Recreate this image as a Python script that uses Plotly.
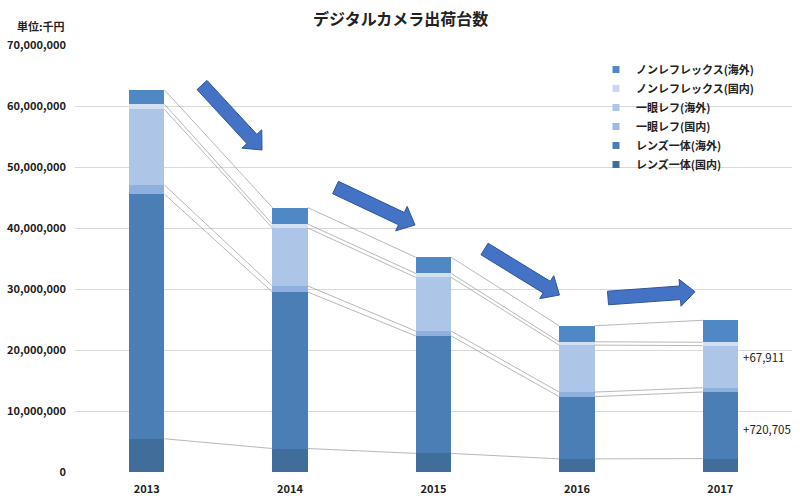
import plotly.graph_objects as go
import numpy as np

years = ["2013", "2014", "2015", "2016", "2017"]
series_names = ["レンズ一体(国内)", "レンズ一体(海外)", "一眼レフ(国内)", "一眼レフ(海外)",
                "ノンレフレックス(国内)", "ノンレフレックス(海外)"]
lens_dom = [5450000, 3850000, 3050000, 2150000, 2200000]
lens_ovs = [40100000, 25650000, 19250000, 10200000, 10920000]
slr_dom = [1500000, 1000000, 800000, 750000, 700000]
slr_ovs = [12400000, 9500000, 8800000, 7700000, 6900000]
nr_dom = [850000, 650000, 650000, 550000, 550000]
nr_ovs = [2350000, 2700000, 2650000, 2620000, 3600000]
series_values = [lens_dom, lens_ovs, slr_dom, slr_ovs, nr_dom, nr_ovs]
colors = ["#416d9b", "#4a7eb5", "#8fb0dc", "#adc6e7", "#d3e0f2", "#4f88c4"]
legend_colors = ["#416d9b", "#4a7eb5", "#9ab8e0", "#adc6e7", "#c9d8ee", "#4f88c4"]
notes = ["+67,911", "+720,705"]
note_y = [18850000, 7050000]

W, H = 800, 503
ML, MR, MT, MB = 75, 8, 45, 31
PW, PH = W - ML - MR, H - MT - MB
bar_w = 0.247

fig = go.Figure()
xs = np.arange(len(years))

for name, vals, col in zip(series_names, series_values, colors):
    fig.add_trace(go.Bar(x=xs, y=vals, width=bar_w, name=name, marker=dict(color=col, line=dict(width=0)),
                         showlegend=False))

# connector lines between segment tops
cum = np.cumsum(np.array(series_values, dtype=float), axis=0)
lx, ly = [], []
for level in cum:
    for i in range(len(years) - 1):
        lx += [xs[i] + bar_w / 2, xs[i + 1] - bar_w / 2, None]
        ly += [level[i], level[i + 1], None]
fig.add_trace(go.Scatter(x=lx, y=ly, mode="lines", line=dict(color="#a6a6a6", width=0.8),
                         showlegend=False, hoverinfo="skip"))

# legend entries (top to bottom)
for name, col in reversed(list(zip(series_names, legend_colors))):
    fig.add_trace(go.Scatter(x=[None], y=[None], mode="markers", name=name,
                             marker=dict(symbol="square", size=7, color=col)))


def px2paper(px, py):
    return (px - ML) / PW, (H - MB - py) / PH


def arrow_path(tail, tip, sw=6.8, hw=13.5, hl=15):
    t = np.array(tail, float)
    h = np.array(tip, float)
    d = h - t
    u = d / np.linalg.norm(d)
    n = np.array([-u[1], u[0]])
    b = h - hl * u
    pts = [t + sw * n, b + sw * n, b + hw * n, h, b - hw * n, b - sw * n, t - sw * n]
    pp = [px2paper(p[0], p[1]) for p in pts]
    return "M " + " L ".join(f"{x:.4f},{y:.4f}" for x, y in pp) + " Z"


arrows = [((202, 85), (262, 150)), ((335.5, 187.5), (415, 225)),
          ((484.5, 249), (559.5, 295)), ((608, 298), (695, 291.7))]
for tail, tip in arrows:
    fig.add_shape(type="path", path=arrow_path(tail, tip), xref="paper", yref="paper",
                  fillcolor="#4472c4", line=dict(color="#2f5597", width=1), layer="above")

font_family = "Noto Sans CJK JP"
fig.add_annotation(text="デジタルカメラ出荷台数", xref="paper", yref="paper",
                   x=px2paper(400, 0)[0], y=px2paper(0, 18)[1], xanchor="center", yanchor="middle",
                   showarrow=False,
                   font=dict(size=16, weight="bold", color="#222222", family=font_family))
fig.add_annotation(text="単位:千円", xref="paper", yref="paper",
                   x=px2paper(15, 0)[0], y=px2paper(0, 26)[1], xanchor="left", yanchor="middle",
                   showarrow=False,
                   font=dict(size=11, weight="bold", color="#222222", family=font_family))
for t, yv in zip(notes, note_y):
    fig.add_annotation(text=t, xref="x", yref="y", x=4 + bar_w / 2 + 0.02, y=yv, xanchor="left",
                       yanchor="middle", showarrow=False,
                       font=dict(size=11.5, color="#222222", family=font_family))

fig.update_layout(
    width=W, height=H, margin=dict(l=ML, r=MR, t=MT, b=MB),
    barmode="stack", plot_bgcolor="white", paper_bgcolor="white",
    font=dict(family=font_family, color="#222222"),
    legend=dict(x=px2paper(596, 0)[0], y=px2paper(0, 55)[1], xanchor="left", yanchor="top",
                bgcolor="rgba(255,255,255,0)", font=dict(size=11, weight="bold", color="#222222"),
                itemsizing="trace", traceorder="normal"),
    xaxis=dict(range=[-0.5, 4.5], tickvals=list(xs), ticktext=years, showgrid=False,
               zeroline=False, showline=False, ticks="", ticklabelstandoff=9,
               tickfont=dict(size=11, weight="bold", color="#222222")),
    yaxis=dict(range=[0, 70000000], dtick=10000000, tickformat=",d", gridcolor="#d9d9d9",
               gridwidth=1, zeroline=False, showline=False, ticks="", ticklabelstandoff=8,
               tickfont=dict(size=11, weight="bold", color="#222222")),
)

fig.write_html("out.html", config={"displayModeBar": False},
               post_script="document.body.style.margin='0';")
